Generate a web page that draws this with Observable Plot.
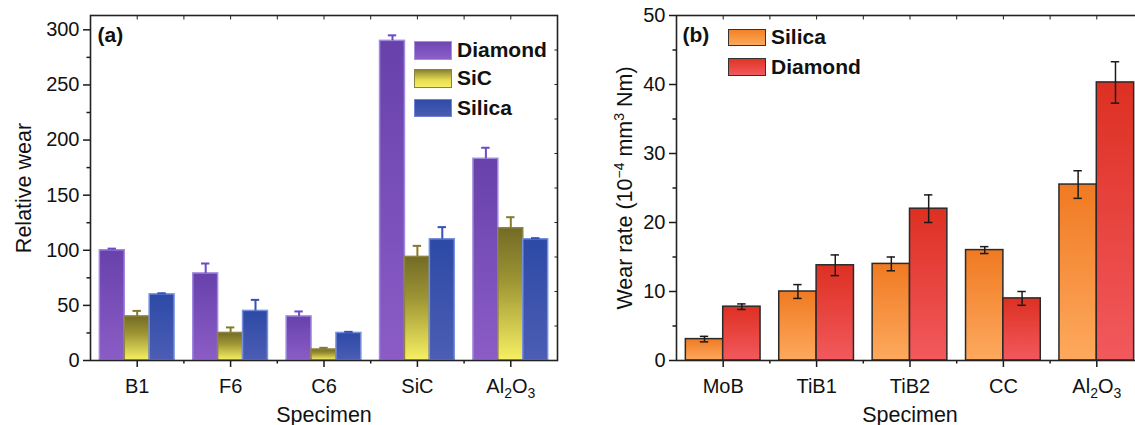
<!DOCTYPE html>
<html><head><meta charset="utf-8">
<script src="https://cdn.jsdelivr.net/npm/d3@7"></script>
<script src="https://cdn.jsdelivr.net/npm/@observablehq/plot@0.6"></script>
<style>
body{margin:0;background:#fff;overflow:hidden;font-family:"Liberation Sans",Arial,sans-serif;}
#wrap{position:relative;width:1135px;height:425px;overflow:hidden;background:#fff;}
.panel{position:absolute;top:0;}
.sw{position:absolute;box-sizing:border-box;width:38px;}
.lt{position:absolute;font-weight:bold;font-size:21px;line-height:20px;height:20px;color:#111;white-space:nowrap;}
#wrap svg g[aria-label*="tick label"] text{font-size:20px !important;font-family:"Liberation Sans",Arial,sans-serif !important;fill:#111;}
</style></head><body><div id="wrap"></div>
<script>
// ---------- Panel (a) data ----------
const catsA = ["B1", "F6", "C6", "SiC", "Al2O3"];
const seriesA = ["Diamond", "SiC", "Silica"];
const diamondA = [100, 79, 40, 290, 183];
const diamondErrA = [1.5, 9, 4.5, 5, 10];
const sicA = [40, 25, 10, 94, 120];
const sicErrA = [5, 5, 1.5, 10, 10];
const silicaA = [60, 45, 25, 110, 110];
const silicaErrA = [1, 10, 1, 11, 1];
const yTicksA = [0, 50, 100, 150, 200, 250, 300];
const yMinorA = [25, 75, 125, 175, 225, 275];

// ---------- Panel (b) data ----------
const catsB = ["MoB", "TiB1", "TiB2", "CC", "Al2O3"];
const seriesB = ["Silica", "Diamond"];
const silicaB = [3.1, 10, 14, 16, 25.5];
const silicaErrB = [0.4, 1, 1, 0.5, 2];
const diamondB = [7.8, 13.8, 22, 9, 40.3];
const diamondErrB = [0.4, 1.5, 2, 1, 3];
const yTicksB = [0, 10, 20, 30, 40, 50];
const yMinorB = [5, 15, 25, 35, 45];

const NS = "http://www.w3.org/2000/svg";
const FONT = '"Liberation Sans", Arial, sans-serif';

function addDefs(svg, grads) {
  const defs = document.createElementNS(NS, "defs");
  for (const g of grads) {
    const lg = document.createElementNS(NS, "linearGradient");
    lg.setAttribute("id", g.id);
    lg.setAttribute("x1", "0"); lg.setAttribute("y1", "0");
    lg.setAttribute("x2", "0"); lg.setAttribute("y2", "1");
    for (const [o, c] of g.stops) {
      const s = document.createElementNS(NS, "stop");
      s.setAttribute("offset", o); s.setAttribute("stop-color", c);
      lg.appendChild(s);
    }
    defs.appendChild(lg);
  }
  svg.insertBefore(defs, svg.firstChild);
}

function richText(root, key, parts) {
  root.querySelectorAll("text").forEach(t => {
    if (t.textContent !== key) return;
    while (t.firstChild) t.removeChild(t.firstChild);
    let shift = 0;
    for (const p of parts) {
      const ts = document.createElementNS(NS, "tspan");
      const target = p.sub ? 5 : p.sup ? -8 : 0;
      ts.setAttribute("dy", target - shift);
      shift = target;
      if (p.sub || p.sup) ts.setAttribute("font-size", p.size || 14);
      ts.textContent = p.t;
      t.appendChild(ts);
    }
  });
}

function buildPanel(cfg) {
  const n = cfg.series.length, group = 0.8, bw = group / n;
  const data = [];
  cfg.series.forEach((s, si) => cfg.values[si].forEach((v, ci) =>
    data.push({s, si, ci, v, e: cfg.errs[si][ci], xc: ci + (si - (n - 1) / 2) * bw})));
  const marks = [];
  cfg.series.forEach((s, si) => {
    const sub = data.filter(d => d.si === si);
    marks.push(Plot.rect(sub, {
      x1: d => d.xc - bw / 2, x2: d => d.xc + bw / 2, y1: 0, y2: "v",
      fill: `url(#${cfg.gradIds[si]})`, stroke: cfg.strokes[si], strokeWidth: 1.5
    }));
  });
  cfg.series.forEach((s, si) => {
    const sub = data.filter(d => d.si === si);
    marks.push(Plot.ruleX(sub, {x: "xc", y1: d => cfg.fullErr ? d.v - d.e : d.v, y2: d => d.v + d.e,
      stroke: cfg.errColors[si], strokeWidth: cfg.errWidth}));
    marks.push(Plot.ruleY(sub, {y: d => d.v + d.e, x1: d => d.xc - cfg.cap, x2: d => d.xc + cfg.cap,
      stroke: cfg.errColors[si], strokeWidth: cfg.errWidth}));
    if (cfg.fullErr) marks.push(Plot.ruleY(sub, {y: d => d.v - d.e, x1: d => d.xc - cfg.cap, x2: d => d.xc + cfg.cap,
      stroke: cfg.errColors[si], strokeWidth: cfg.errWidth}));
  });
  marks.push(
    Plot.axisY({ticks: cfg.yTicks, tickSize: 7, tickPadding: 4, fontSize: 20, label: null, strokeWidth: 1.5}),
    Plot.axisY({ticks: cfg.yMinor, tickSize: 3.5, fill: "none", label: null, strokeWidth: 1.5}),
    Plot.axisX({ticks: [0, 1, 2, 3, 4], tickFormat: i => cfg.cats[i], tickSize: 7, tickPadding: 11, fontSize: 20, label: null, strokeWidth: 1.5}),
    Plot.axisX({ticks: [0.5, 1.5, 2.5, 3.5], tickSize: 3.5, fill: "none", label: null, strokeWidth: 1.5}),
    Plot.axisX({anchor: "top", ticks: [0, 0.5, 1, 1.5, 2, 2.5, 3, 3.5, 4], tickSize: 3.5, dy: 3.5, fill: "none", label: null, strokeWidth: 1})
  );
  if (cfg.rightTicks) marks.push(Plot.axisY({anchor: "right", ticks: cfg.rightTicks, tickSize: 3.5, dx: -3.5, fill: "none", label: null, strokeWidth: 1}));
  marks.push(
    Plot.frame({stroke: "#222", strokeWidth: 1.6}),
    Plot.text([cfg.tag], {text: d => d, frameAnchor: "top-left", dx: cfg.tagDx, dy: 20, textAnchor: "start", lineAnchor: "middle", fontWeight: "bold", fontSize: 21, fill: "#111"}),
    Plot.text([cfg.ylabel], {text: d => d, frameAnchor: "left", rotate: -90, dx: cfg.ylabelDx, lineAnchor: "bottom", textAnchor: "middle", fontSize: 21.5, fill: "#111"}),
    Plot.text(["Specimen"], {text: d => d, frameAnchor: "bottom", dy: 61, lineAnchor: "bottom", textAnchor: "middle", fontSize: 21.5, fill: "#111"})
  );
  const svg = Plot.plot({
    width: 586, height: 425,
    marginLeft: 90, marginRight: 29, marginTop: 15, marginBottom: 65,
    x: {type: "linear", domain: [-0.5, 4.5]},
    y: {domain: cfg.yDomain},
    style: {fontFamily: FONT, fontSize: "20px", color: "#1a1a1a", background: "transparent", overflow: "visible"},
    marks
  });
  addDefs(svg, cfg.grads);
  richText(svg, "Al2O3", [{t: "Al"}, {t: "2", sub: true}, {t: "O"}, {t: "3", sub: true}]);
  return svg;
}

const wrap = document.getElementById("wrap");

// Panel (a)
const svgA = buildPanel({
  cats: catsA, series: seriesA,
  values: [diamondA, sicA, silicaA], errs: [diamondErrA, sicErrA, silicaErrA],
  yDomain: [0, 313], yTicks: yTicksA, yMinor: yMinorA,
  rightTicks: d3.range(1, 10).map(k => k * 313 / 10),
  gradIds: ["gA0", "gA1", "gA2"],
  grads: [
    {id: "gA0", stops: [["0%", "#6841ab"], ["100%", "#8b5cc6"]]},
    {id: "gA1", stops: [["0%", "#736b26"], ["40%", "#9d9434"], ["100%", "#f7f062"]]},
    {id: "gA2", stops: [["0%", "#2c4aa6"], ["100%", "#4c5db4"]]}
  ],
  strokes: ["#a08ae0", "#8c8440", "#7690dc"],
  errColors: ["#6c4bc6", "#857a2a", "#3552b8"],
  errWidth: 2, cap: 0.045, fullErr: false,
  tag: "(a)", tagDx: 7, ylabel: "Relative wear", ylabelDx: -60
});
svgA.classList.add("panel"); svgA.style.left = "0px";
wrap.appendChild(svgA);

// Panel (b)
const svgB = buildPanel({
  cats: catsB, series: seriesB,
  values: [silicaB, diamondB], errs: [silicaErrB, diamondErrB],
  yDomain: [0, 50], yTicks: yTicksB, yMinor: yMinorB,
  rightTicks: null,
  gradIds: ["gB0", "gB1"],
  grads: [
    {id: "gB0", stops: [["0%", "#f07a22"], ["100%", "#fda95e"]]},
    {id: "gB1", stops: [["0%", "#dd3022"], ["100%", "#f2595d"]]}
  ],
  strokes: ["#2a2a2a", "#2a2a2a"],
  errColors: ["#1a1a1a", "#1a1a1a"],
  errWidth: 1.5, cap: 0.045, fullErr: true,
  tag: "(b)", tagDx: 6, ylabel: "Wear rate (10\u22124 mm3 Nm)", ylabelDx: -45
});
richText(svgB, "Wear rate (10\u22124 mm3 Nm)", [{t: "Wear rate (10"}, {t: "\u22124", sup: true}, {t: " mm"}, {t: "3", sup: true}, {t: " Nm)"}]);
svgB.classList.add("panel"); svgB.style.left = "586px";
wrap.appendChild(svgB);

// Legends (HTML overlays)
const legendA = [
  {label: "Diamond", top: 41, h: 18.5, bg: "linear-gradient(#6d48b0,#8c5fc8)", border: "#a58ee0"},
  {label: "SiC", top: 69, h: 18.5, bg: "linear-gradient(#8a8232,#e6de50 60%,#f6ef64)", border: "#8a8240"},
  {label: "Silica", top: 98.5, h: 18.5, bg: "linear-gradient(#2f4ca8,#4a5cb3)", border: "#6f86d6"}
];
const legendB = [
  {label: "Silica", top: 28.5, h: 17.5, bg: "linear-gradient(#f28226,#fca85a)", border: "#333"},
  {label: "Diamond", top: 57.5, h: 18, bg: "linear-gradient(#e03424,#f2585c)", border: "#333"}
];
function drawLegend(items, left) {
  for (const it of items) {
    const sw = document.createElement("div");
    sw.className = "sw";
    sw.style.left = left + "px"; sw.style.top = it.top + "px"; sw.style.height = it.h + "px";
    sw.style.background = it.bg; sw.style.border = "1.5px solid " + it.border;
    wrap.appendChild(sw);
    const tx = document.createElement("div");
    tx.className = "lt"; tx.textContent = it.label;
    tx.style.left = (left + 43) + "px"; tx.style.top = (it.top + it.h / 2 - 10) + "px";
    wrap.appendChild(tx);
  }
}
drawLegend(legendA, 414);
drawLegend(legendB, 728);
</script></body></html>
